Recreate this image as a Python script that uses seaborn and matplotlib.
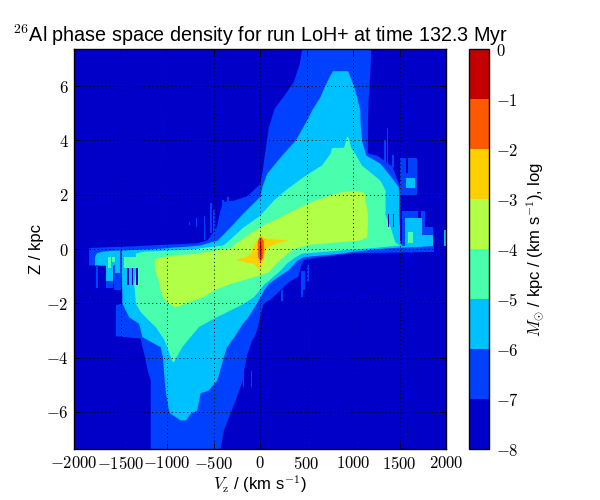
import matplotlib
matplotlib.use('Agg')
import matplotlib.pyplot as plt
import seaborn as sns
from matplotlib.cm import ScalarMappable
from matplotlib.colors import BoundaryNorm, ListedColormap

# level edges: z row, left and right Vz of the region above that level
z_m7 = [7.37, 6.84, 6.17, 5.67, 5.18, 4.5, 3.55, 3.45, 3.3, 3.05, 2.42, 1.96, 1.8, 1.75, 1.44, 0.82, 0.33, 0.23, 0.18, 0.13, 0.12, 0.06, 0.04, -0.09, -0.14, -0.22, -0.3, -0.4, -0.59, -0.6, -0.77, -1.0, -1.2, -1.5, -1.85, -2.0, -2.05, -2.43, -2.9, -3.2, -3.28, -3.35, -3.85, -4.5, -4.6, -4.83, -5.4, -6.05, -6.67, -7.37]
left_m7 = [448, 422, 358, 258, 150, 90, 50, 45, 40, 30, 0, -143, -286, -400, -430, -470, -573, -680, -1000, -1300, -1350, -1825, -1843, -1843, -1843, -1843, -1843, -1843, -1843, -1490, -1490, -1490, -1490, -1490, -1490, -1490, -1555, -1555, -1555, -1555, -1290, -1285, -1250, -1210, -1200, -1180, -1180, -1180, -1180, -1180]
right_m7 = [1190, 1185, 1175, 1165, 1160, 1155, 1155, 1260, 1320, 1420, 1490, 1505, 1505, 1505, 1505, 1505, 1505, 1505, 1505, 1505, 1865, 1865, 1865, 1865, 1000, 800, 608, 465, 440, 435, 425, 410, 305, 215, 107, 36, 30, 0, -30, -60, -75, -90, -140, -180, -185, -190, -250, -322, -394, -430]

z_m6 = [6.57, 6.41, 6.04, 5.61, 5.12, 4.75, 4.0, 3.46, 3.16, 2.79, 2.3, 1.95, 1.33, 0.81, 0.33, 0.15, 0.1, 0.07, 0.05, 0.0, -0.05, -0.08, -0.14, -0.28, -0.4, -0.59, -0.6, -0.77, -0.96, -1.27, -1.5, -1.76, -2.0, -2.5, -2.74, -3.23, -3.6, -3.97, -4.83, -5.2, -5.3, -5.93, -6.05, -6.3]
left_m6 = [780, 752, 698, 644, 555, 501, 376, 233, 161, 72, 20, 0, -183, -323, -462, -645, -800, -950, -1000, -1200, -1600, -1700, -1760, -1780, -1780, -1780, -1490, -1490, -1490, -1490, -1486, -1484, -1484, -1412, -1305, -1270, -1074, -1050, -1030, -1020, -1015, -985, -967, -860]
right_m6 = [940, 960, 1002, 1038, 1074, 1074, 1092, 1138, 1289, 1378, 1486, 1490, 1490, 1500, 1500, 1520, 1860, 1500, 1400, 1200, 1100, 1000, 900, 465, 400, 350, 345, 300, 215, 90, 40, 0, -40, -130, -190, -280, -360, -394, -465, -560, -644, -680, -750, -800]

z_m5 = [4.14, 3.75, 3.74, 3.52, 3.1, 2.79, 2.54, 2.17, 1.8, 1.25, 0.81, 0.26, 0.15, 0.05, 0.0, -0.08, -0.15, -0.3, -0.5, -0.8, -1.3, -1.76, -2.0, -2.31, -2.55, -2.86, -3.3, -3.6, -4.15]
left_m5 = [930, 900, 770, 752, 662, 519, 412, 268, 143, 0, -183, -358, -400, -640, -700, -1250, -1340, -1340, -1340, -1340, -1358, -1345, -1340, -1287, -1220, -1126, -1038, -1003, -945]
right_m5 = [945, 975, 975, 1020, 1090, 1200, 1289, 1345, 1345, 1345, 1400, 1450, 1500, 1200, 1000, 700, 450, 370, 290, 210, 40, -72, -179, -358, -501, -662, -770, -841, -930]

z_m4 = [2.15, 2.1, 2.0, 1.68, 1.44, 1.19, 0.95, 0.82, 0.59, 0.45, 0.33, 0.18, 0.04, -0.05, -0.16, -0.22, -0.28, -0.35, -0.6, -0.84, -1.0, -1.27, -1.51, -1.75, -1.94, -2.1]
left_m4 = [960, 870, 752, 501, 358, 215, 72, 0, -108, -165, -220, -270, -323, -500, -716, -900, -1050, -1137, -1137, -1125, -1110, -1085, -1075, -1050, -1010, -930]
right_m4 = [1050, 1110, 1120, 1135, 1150, 1155, 1155, 1153, 1150, 1146, 1074, 537, 380, 330, 290, 270, 250, 225, 150, 89, -50, -322, -501, -608, -770, -880]

z_m3 = [0.52, 0.4, 0.33, 0.32, 0.25, 0.15, 0.0, -0.16, -0.3, -0.38, -0.47, -0.53, -0.71, -0.74]
left_m3 = [-5, -20, -35, -35, -50, -72, -85, -97, -170, -269, -161, -72, -18, -5]
right_m3 = [10, 54, 304, 290, 197, 120, 54, 47, 40, 36, 28, 24, 10, 5]

z_m2 = [0.45, 0.3, 0.0, -0.3, -0.41]
left_m2 = [-10, -29, -29, -25, -8]
right_m2 = [12, 36, 36, 30, 10]

z_m1 = [0.39, 0.1, -0.2, -0.47]
left_m1 = [0, -7, -7, 0]
right_m1 = [4, 11, 11, 4]

# narrow streaks and blocks beside the main shape: Vz, width, z range and the band they belong to
streak_v = [-526, -400, -340, -680, -600, -760, -494, 447, 470, 519, 240, -90, -179, 1371, 1343, 1432,
            1595, 1610, 1780, 1755, -1752, -1620, -1530, -1497,
            1620, 1648, 1790, -1992, -1620, -1530, 1990,
            1620, -1616, -1574, -1395,
            1380, 1434, 1583, 1515, -1420, -1370, -1323]
streak_w = [22, 22, 22, 15, 15, 10, 22, 22, 22, 22, 22, 18, 18, 18, 18, 18,
            180, 175, 170, 40, 25, 80, 80, 18,
            90, 180, 140, 15, 80, 50, 14,
            55, 36, 36, 143,
            18, 18, 25, 18, 18, 18, 18]
streak_lo = [0.6, 1.0, 1.4, 0.8, 0.33, 0.9, 0.45, -1.76, -1.5, -1.2, -1.9, -5.1, -5.1, 3.03, 3.16, 3.03,
             1.99, 0.1, 0.1, 0.8, -1.45, -1.45, -1.5, -1.1,
             2.24, 0.09, 0.1, -0.47, -1.17, -0.9, 0.1,
             0.21, -0.71, -0.47, -0.7,
             0.8, 0.8, 2.8, 0.3, -1.33, -1.33, -1.33]
streak_hi = [1.7, 1.8, 1.9, 1.13, 1.2, 1.0, 1.44, -0.8, -0.8, -0.6, -1.5, -4.5, -4.5, 4.45, 4.0, 3.46,
             3.34, 1.4, 0.8, 1.4, -0.59, -0.59, -0.59, 0.08,
             2.6, 1.13, 0.5, -0.26, -0.59, -0.59, 0.7,
             0.64, -0.28, -0.28, -0.28,
             1.3, 1.3, 3.34, 1.4, -0.7, -0.7, -0.7]
streak_band = [-7, -7, -7, -7, -7, -7, -7, -7, -7, -7, -7, -7, -7, -7, -7, -7,
               -7, -7, -7, -7, -7, -7, -7, -7,
               -6, -6, -6, -6, -6, -6, -6,
               -5, -5, -5, -5,
               -8, -8, -8, -8, -8, -8, -8]

x_ticks = [-2000, -1500, -1000, -500, 0, 500, 1000, 1500, 2000]
y_ticks = [-6, -4, -2, 0, 2, 4, 6]
levels = [-8, -7, -6, -5, -4, -3, -2, -1, 0]

sns.set_theme(style='ticks', rc={
    'font.size': 12,
    'mathtext.fontset': 'cm',
    'axes.linewidth': 1.0,
    'axes.edgecolor': 'black',
    'axes.labelcolor': 'black',
    'text.color': 'black',
    'xtick.direction': 'in',
    'ytick.direction': 'in',
    'xtick.top': True,
    'ytick.right': True,
    'xtick.major.size': 4,
    'ytick.major.size': 4,
    'xtick.color': 'black',
    'ytick.color': 'black',
})
plt.rcParams['font.family'] = ['Liberation Sans', 'DejaVu Sans']

jet = plt.get_cmap('jet')
band_colors = [jet((i + 0.5) / 8) for i in range(8)]
cmap = ListedColormap(band_colors)
norm = BoundaryNorm(levels, cmap.N)

fig = plt.figure(figsize=(6, 5), dpi=100)
ax = fig.add_axes([74 / 600, 51 / 500, 372 / 600, 400 / 500])
cax = fig.add_axes([469 / 600, 51 / 500, 20 / 600, 400 / 500])

ax.set_facecolor(band_colors[0])
regions = [(z_m7, left_m7, right_m7), (z_m6, left_m6, right_m6), (z_m5, left_m5, right_m5),
           (z_m4, left_m4, right_m4), (z_m3, left_m3, right_m3), (z_m2, left_m2, right_m2),
           (z_m1, left_m1, right_m1)]
# streaks go under the yellow-green and warmer bands
for i, (z, left, right) in enumerate(regions):
    ax.fill_betweenx(z, left, right, color=band_colors[i + 1], lw=0, zorder=1 + i * 0.1)

for v, w, lo, hi, band in zip(streak_v, streak_w, streak_lo, streak_hi, streak_band):
    ax.bar(v, hi - lo, bottom=lo, width=w, color=band_colors[band + 8], lw=0, zorder=1.9)

ax.set_xlim(-2000, 2000)
ax.set_ylim(-7.37, 7.37)
ax.set_xticks(x_ticks)
ax.set_xticklabels([f'${v}$' for v in x_ticks], fontsize=12)
ax.set_yticks(y_ticks)
ax.set_yticklabels([f'${v}$' for v in y_ticks], fontsize=12)
ax.tick_params(width=0.6, pad=4)
ax.grid(True, color='black', lw=0.7, linestyle=(0, (1, 3)))
ax.set_axisbelow(False)
ax.set_xlabel(r'$V_{\rm z}$ / (km s$^{-1}$)', fontsize=12, labelpad=1)
ax.set_ylabel('Z / kpc', fontsize=12, labelpad=1)
ax.set_title(r'$^{26}$Al phase space density for run LoH+ at time 132.3 Myr', fontsize=14.2, pad=5)

cb = fig.colorbar(ScalarMappable(norm=norm, cmap=cmap), cax=cax, ticks=levels, spacing='proportional')
cb.ax.set_yticklabels([f'${v}$' for v in levels], fontsize=12)
cb.ax.tick_params(width=0.6, length=4, direction='in', right=True, pad=5)
cb.set_label(r'$M_{\odot}$ / kpc / (km s$^{-1}$), log', fontsize=12)

plt.savefig('out.png', dpi=100)
